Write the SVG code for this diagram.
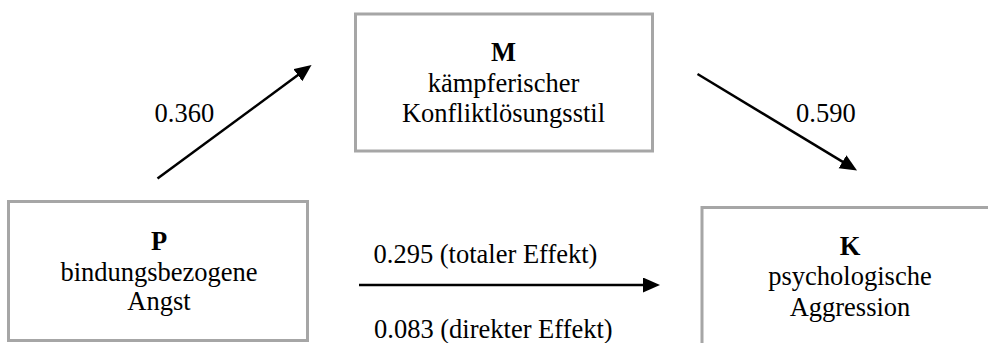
<svg xmlns="http://www.w3.org/2000/svg" width="988" height="343" viewBox="0 0 988 343">
<style>
.box{fill:#fff;stroke:#a6a6a6;stroke-width:3}
.t{font-family:"Liberation Serif","Times New Roman",serif;font-size:26.5px;fill:#000}
.c{text-anchor:middle}
.b{font-weight:bold}
.edge{stroke:#000;stroke-width:2.5;fill:none;marker-end:url(#ah)}
</style>
<defs>
<marker id="ah" markerUnits="userSpaceOnUse" markerWidth="18" markerHeight="16" refX="9" refY="7.5" orient="auto">
<path d="M0,0 L17,7.5 L0,15 z" fill="#000"/>
</marker>
</defs>
<rect width="988" height="343" fill="#fff"/>
<g id="node-M">
<rect class="box" x="355.5" y="14" width="297" height="137"/>
<text class="t c b" x="503.5" y="61">M</text>
<text class="t c" x="503.5" y="91.5">kämpferischer</text>
<text class="t c" x="503.5" y="121.5">Konfliktlösungsstil</text>
</g>
<g id="node-P">
<rect class="box" x="8.5" y="201.5" width="299" height="139"/>
<text class="t c b" x="159" y="250">P</text>
<text class="t c" x="159" y="281">bindungsbezogene</text>
<text class="t c" x="159" y="310">Angst</text>
</g>
<g id="node-K">
<rect class="box" x="702" y="207.5" width="300" height="150"/>
<text class="t c b" x="850" y="255">K</text>
<text class="t c" x="850" y="285">psychologische</text>
<text class="t c" x="850" y="316">Aggression</text>
</g>
<g id="connectors">
<line class="edge" x1="157.5" y1="178.5" x2="305.1" y2="69.8"/>
<line class="edge" x1="697.5" y1="74" x2="850.2" y2="166.4"/>
<line class="edge" x1="359" y1="285" x2="652" y2="285"/>
<text class="t" x="154.5" y="122">0.360</text>
<text class="t" x="796" y="122">0.590</text>
<text class="t" x="373.5" y="263">0.295 (totaler Effekt)</text>
<text class="t" x="374" y="337.5">0.083 (direkter Effekt)</text>
</g>
</svg>
